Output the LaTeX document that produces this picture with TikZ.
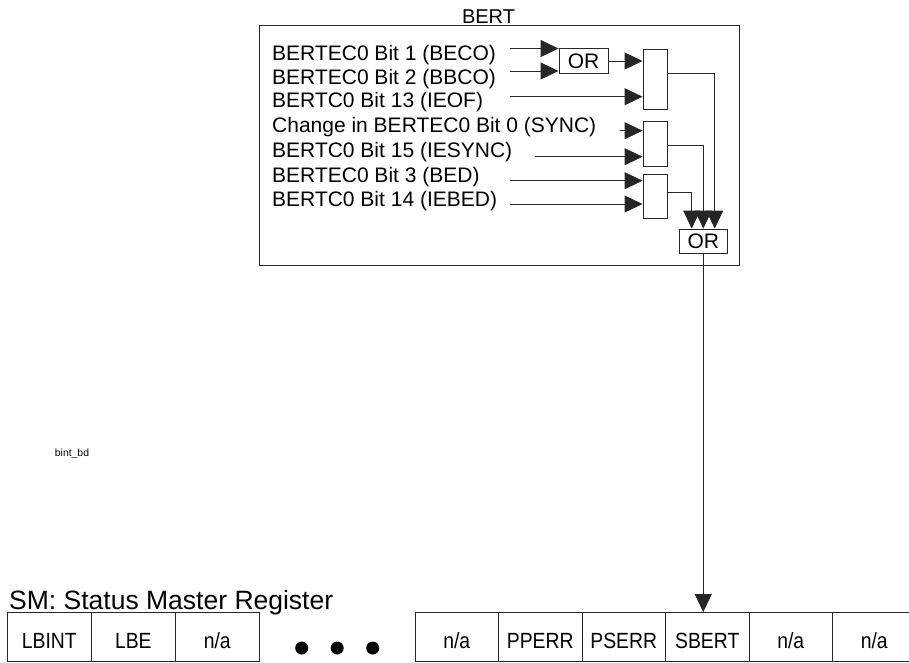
\documentclass[tikz,border=0pt]{standalone}
\usepackage{fontspec}
\setmainfont{Liberation Sans}
\newfontfamily\regfont[FakeStretch=0.88]{Liberation Sans}
\usetikzlibrary{arrows.meta}
\begin{document}
\begin{tikzpicture}[x=1pt,y=-1pt,
  ln/.style={line width=0.9pt, draw=black!85},
  arr/.style={ln, -{Triangle[length=18pt,width=17pt]}},
  gatebox/.style={ln, rectangle, inner sep=0pt, minimum width=24pt},
  orbox/.style={ln, rectangle, inner sep=0pt, font=\fontsize{21}{21}\selectfont},
  intxt/.style={anchor=base west, inner sep=0pt, font=\fontsize{21}{21}\selectfont},
  cell/.style={ln, rectangle, inner sep=0pt, minimum width=84pt, minimum height=48.5pt,
    text height=24pt, text depth=0.5pt, font=\regfont\fontsize{22}{22}\selectfont},
  dotmark/.style={circle, fill=black, inner sep=0pt, minimum size=13pt}]
\fill[white] (0,0) rectangle (909,662);
\useasboundingbox (0,0) rectangle (909,662);
\clip (0,0) rectangle (909,662);

% BERT frame
\draw[ln] (259,25) rectangle (739,265);
\node[anchor=base, inner sep=0pt, font=\fontsize{20}{20}\selectfont] (berttitle) at (488.5,23) {BERT};

% input texts
\node[intxt] (t1) at (272,60.5) {BERTEC0 Bit 1 (BECO)};
\node[intxt] (t2) at (272,84) {BERTEC0 Bit 2 (BBCO)};
\node[intxt] (t3) at (272,107.5) {BERTC0 Bit 13 (IEOF)};
\node[intxt] (t4) at (272,132.5) {Change in BERTEC0 Bit 0 (SYNC)};
\node[intxt] (t5) at (272,157.5) {BERTC0 Bit 15 (IESYNC)};
\node[intxt] (t6) at (272,182) {BERTEC0 Bit 3 (BED)};
\node[intxt] (t7) at (272,206) {BERTC0 Bit 14 (IEBED)};

% gates
\node[orbox, minimum width=49pt, minimum height=25pt] (or1) at (583.5,61) {OR};
\node[gatebox, minimum height=60pt] (g2) at (655,79) {};
\node[gatebox, minimum height=45.5pt] (g3) at (655,143.75) {};
\node[gatebox, minimum height=44pt] (g4) at (655,196) {};
\node[orbox, minimum width=48.5pt, minimum height=24.5pt] (orf) at (703.25,241.25) {OR};

% input start points
\coordinate (s1) at (510,48.5);
\coordinate (s2) at (510,71);
\coordinate (s3) at (510,96.7);
\coordinate (s4) at (620,130.7);
\coordinate (s5) at (535,156.7);
\coordinate (s6) at (510,180.7);
\coordinate (s7) at (510,204);

\draw[arr] (s1) -- (s1 -| or1.west);
\draw[arr] (s2) -- (s2 -| or1.west);
\draw[arr] (or1.east) -- (or1.east -| g2.west);
\draw[arr] (s3) -- (s3 -| g2.west);
\draw[arr] (s4) -- (s4 -| g3.west);
\draw[arr] (s5) -- (s5 -| g3.west);
\draw[arr] (s6) -- (s6 -| g4.west);
\draw[arr] (s7) -- (s7 -| g4.west);

% gate outputs into final OR
\coordinate (o2) at (667,73);
\coordinate (o3) at (667,145);
\coordinate (o4) at (667,192.7);
\coordinate (k2) at (714.7,73);
\coordinate (k3) at (703.3,145);
\coordinate (k4) at (691.7,192.7);
\draw[arr] (o2) -- (k2) -- (k2 |- orf.north);
\draw[arr] (o3) -- (k3) -- (k3 |- orf.north);
\draw[arr] (o4) -- (k4) -- (k4 |- orf.north);

% label
\node[inner sep=0pt, font=\fontsize{10.4}{10.4}\selectfont] (bintbd) at (72,454) {bint\_bd};

% register
\node[anchor=base west, inner sep=0pt, font=\fontsize{26.5}{26.5}\selectfont] (smtitle) at (9,609) {SM: Status Master Register};
\node[cell] (c1) at (49.3,636.75) {LBINT};
\node[cell] (c2) at (133.3,636.75) {LBE};
\node[cell] (c3) at (217.3,636.75) {n/a};
\node[dotmark] (d1) at (301.7,648) {};
\node[dotmark] (d2) at (337.2,648) {};
\node[dotmark] (d3) at (372.7,648) {};
\node[cell, minimum width=83.5pt] (r1) at (456.75,636.75) {n/a};
\node[cell, minimum width=83.5pt] (r2) at (540.25,636.75) {PPERR};
\node[cell, minimum width=83.5pt] (r3) at (623.75,636.75) {PSERR};
\node[cell, minimum width=83.5pt] (r4) at (707.25,636.75) {SBERT};
\node[cell, minimum width=83.5pt] (r5) at (790.75,636.75) {n/a};
\node[cell, minimum width=83.5pt] (r6) at (874.25,636.75) {n/a};

\draw[arr] (orf.south) -- (orf.south |- r4.north);
\end{tikzpicture}
\end{document}
